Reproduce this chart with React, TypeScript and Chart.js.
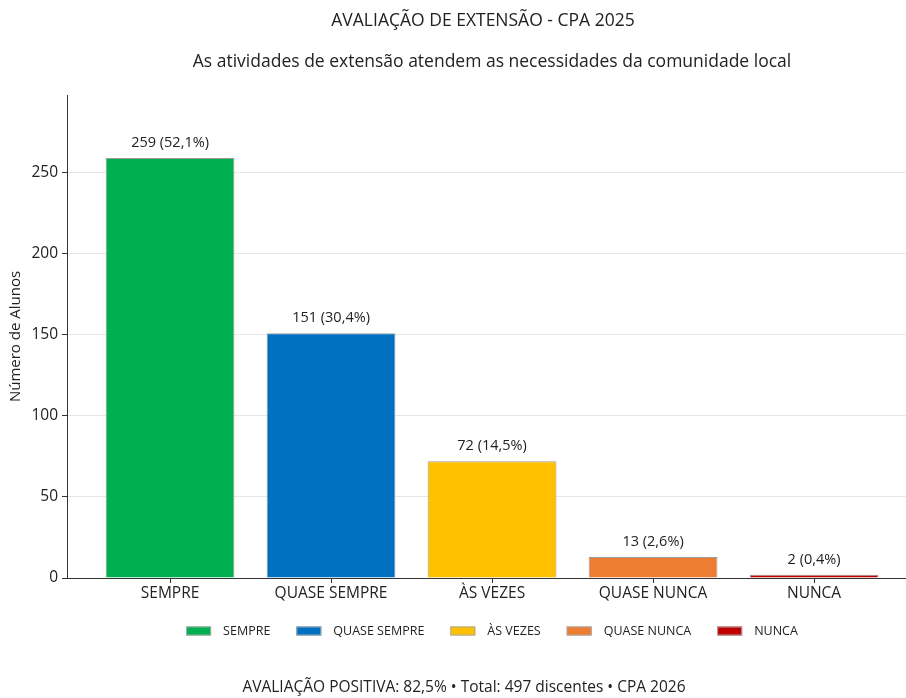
import React, { useEffect, useRef } from "react";
import { Chart, registerables } from "chart.js";

Chart.register(...registerables);

const categories = ["SEMPRE", "QUASE SEMPRE", "ÀS VEZES", "QUASE NUNCA", "NUNCA"];
const counts = [259, 151, 72, 13, 2];
const colors = ["#00B050", "#0070C0", "#FFC000", "#ED7D31", "#C00000"];
const yTicks = [0, 50, 100, 150, 200, 250];
const total = 497;
const titleText = "AVALIAÇÃO DE EXTENSÃO - CPA 2025";
const subtitleText = "As atividades de extensão atendem as necessidades da comunidade local";
const footerText = "AVALIAÇÃO POSITIVA: 82,5% • Total: 497 discentes • CPA 2026";
const yTitle = "Número de Alunos";

const FONT = "'Open Sans', sans-serif";
const TEXT = "#222222";

const fmtPct = (v: number) => ((v / total) * 100).toFixed(1).replace(".", ",");

const overlay = {
  id: "overlay",
  afterDatasetsDraw(chart: any) {
    const ctx = chart.ctx;
    const meta = chart.getDatasetMeta(0);
    ctx.save();
    ctx.fillStyle = TEXT;
    ctx.textAlign = "center";
    ctx.textBaseline = "alphabetic";
    ctx.font = `14.5px ${FONT}`;
    meta.data.forEach((bar: any, i: number) => {
      ctx.fillText(`${counts[i]} (${fmtPct(counts[i])}%)`, bar.x, bar.y - 11);
    });
    ctx.restore();
  },
  afterDraw(chart: any) {
    const ctx = chart.ctx;
    ctx.save();
    ctx.fillStyle = TEXT;
    ctx.textAlign = "center";
    ctx.textBaseline = "middle";
    ctx.font = `17.5px ${FONT}`;
    ctx.fillText(titleText, 483, 21);
    ctx.fillText(subtitleText, 492, 62);
    ctx.font = `15.5px ${FONT}`;
    ctx.fillText(footerText, 464, 688);

    // legend
    ctx.font = `12.5px ${FONT}`;
    const boxW = 25, boxH = 9, gap = 12, colSpace = 26;
    const widths = categories.map((c) => boxW + gap + ctx.measureText(c).width);
    const totalW = widths.reduce((a, b) => a + b, 0) + colSpace * (categories.length - 1);
    let x = 492 - totalW / 2;
    const cy = 631;
    ctx.textAlign = "left";
    categories.forEach((c, i) => {
      ctx.fillStyle = colors[i];
      ctx.fillRect(x, cy - boxH / 2, boxW, boxH);
      ctx.strokeStyle = "#aaaaaa";
      ctx.lineWidth = 1;
      ctx.strokeRect(x + 0.5, cy - boxH / 2 + 0.5, boxW - 1, boxH - 1);
      ctx.fillStyle = TEXT;
      ctx.fillText(c, x + boxW + gap, cy + 0.5);
      x += widths[i] + colSpace;
    });
    ctx.restore();
  },
};

export default function App() {
  const ref = useRef<HTMLCanvasElement>(null);
  useEffect(() => {
    if (!ref.current) return;
    const chart = new Chart(ref.current, {
      type: "bar",
      data: {
        datasets: [
          {
            data: counts.map((v, i) => ({ x: i, y: v })),
            backgroundColor: colors,
            borderColor: "#9a9a9a",
            borderWidth: 1,
            barPercentage: 0.8,
            categoryPercentage: 1,
          },
        ],
      },
      options: {
        animation: false,
        responsive: false,
        maintainAspectRatio: false,
        layout: { padding: { top: 95, left: 0, right: 0, bottom: 0 } },
        plugins: {
          legend: { display: false },
          title: { display: false },
          tooltip: { enabled: false },
        },
        scales: {
          x: {
            type: "linear",
            offset: false,
            min: -0.64,
            max: 4.571,
            afterBuildTicks: (s: any) => {
              s.ticks = categories.map((_, i) => ({ value: i }));
            },
            afterFit: (s: any) => {
              s.height = 120;
            },
            ticks: {
              callback: (v: any) => categories[v] ?? "",
              color: TEXT,
              font: { family: FONT, size: 15.5 },
              padding: 1,
              maxRotation: 0,
              autoSkip: false,
            },
            grid: {
              offset: false,
              drawOnChartArea: false,
              drawTicks: true,
              tickLength: 5,
              tickColor: "#333333",
            },
            border: { display: true, color: "#333333", width: 1 },
          },
          y: {
            min: 0,
            max: 297.85,
            afterBuildTicks: (s: any) => {
              s.ticks = yTicks.map((v) => ({ value: v }));
            },
            afterFit: (s: any) => {
              s.width = 67;
            },
            ticks: {
              color: TEXT,
              font: { family: FONT, size: 15.5 },
              padding: 4,
            },
            grid: {
              color: (c: any) => (c.tick && c.tick.value === 0 ? "rgba(0,0,0,0)" : "#e6e6e6"),
              lineWidth: 1,
              drawTicks: true,
              tickLength: 5,
              tickColor: "#333333",
            },
            border: { display: true, color: "#333333", width: 1 },
            title: {
              display: true,
              text: yTitle,
              color: TEXT,
              font: { family: FONT, size: 15 },
              padding: { top: 7, bottom: 0 },
            },
          },
        },
      },
      plugins: [overlay],
    });
    return () => chart.destroy();
  }, []);
  return (
    <div style={{ position: "fixed", left: 0, top: 0, width: 906, height: 698, background: "#fff" }}>
      <canvas ref={ref} width={906} height={698} style={{ width: 906, height: 698 }} />
    </div>
  );
}
